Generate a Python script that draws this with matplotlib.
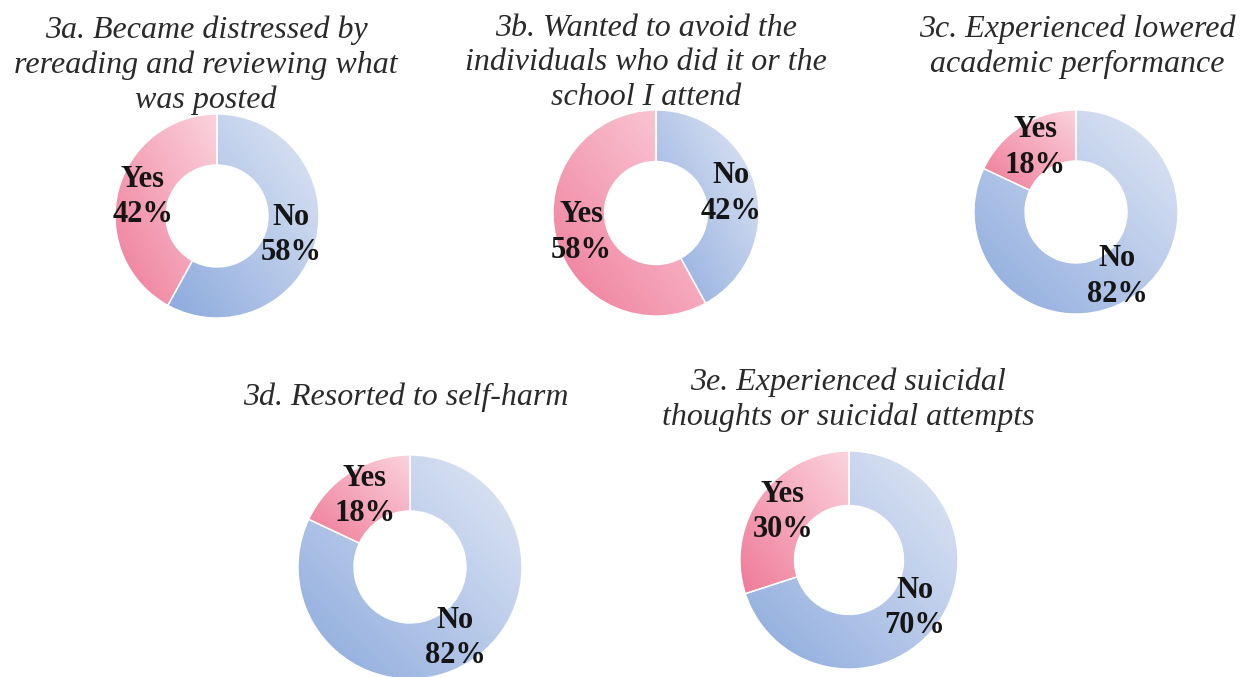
import numpy as np
import matplotlib
matplotlib.use("Agg")
import matplotlib.pyplot as plt
from matplotlib.colors import LinearSegmentedColormap

# Data
titles = [
    "3a. Became distressed by\nrereading and reviewing what\nwas posted",
    "3b. Wanted to avoid the\nindividuals who did it or the\nschool I attend",
    "3c. Experienced lowered\nacademic performance",
    "3d. Resorted to self-harm",
    "3e. Experienced suicidal\nthoughts or suicidal attempts",
]
yes_pct = [42, 58, 18, 18, 30]
no_pct = [58, 42, 82, 82, 70]
answers = ["Yes", "No"]

# layout in pixels: donut centre x, centre y, radius; title centre x, y
W, H = 1248, 677
donut_pos = [(217, 216, 102), (656, 213, 103), (1076, 212, 102),
             (410, 567, 112), (849, 560, 109)]
title_pos = [(206, 65), (646, 63), (1077, 47), (406, 397), (848, 400)]

pink = LinearSegmentedColormap.from_list("pink", ["#fbd3de", "#ef7a98"])
blue = LinearSegmentedColormap.from_list("blue", ["#e2e8f5", "#8caadd"])

fig = plt.figure(figsize=(W / 100, H / 100), dpi=100)
fig.patch.set_facecolor("white")

for i in range(len(titles)):
    cx, cy, r = donut_pos[i]
    ax = fig.add_axes([(cx - r) / W, (H - cy - r) / H, 2 * r / W, 2 * r / H])
    vals = [yes_pct[i], no_pct[i]]
    wedges, _ = ax.pie(vals, startangle=90, counterclock=True, radius=1,
                       wedgeprops=dict(width=0.5, edgecolor="white", linewidth=1))
    # gradient fill, light at top-right, dark at bottom-left of each wedge
    for k, (w, cmap) in enumerate(zip(wedges, [pink, blue])):
        ext = w.get_path().get_extents()
        x0, y0, x1, y1 = ext.x0, ext.y0, ext.x1, ext.y1
        xx, yy = np.meshgrid(np.linspace(0, 1, 200), np.linspace(0, 1, 200))
        t = ((1 - xx) + (1 - yy)) / 2
        im = ax.imshow(t, cmap=cmap, extent=[x0, x1, y0, y1], origin="lower",
                       vmin=0, vmax=1, zorder=0.5, interpolation="bilinear")
        im.set_clip_path(w)
        w.set_facecolor("none")
        w.set_zorder(1)
        # label in the middle of the ring
        th = np.deg2rad((w.theta1 + w.theta2) / 2)
        ax.text(0.75 * np.cos(th), 0.75 * np.sin(th), f"{answers[k]}\n{vals[k]}%",
                ha="center", va="center", fontsize=22, fontweight="bold",
                family="Liberation Serif", color="#151515", linespacing=1.3,
                zorder=3, clip_on=False)
    ax.set_xlim(-1, 1)
    ax.set_ylim(-1, 1)
    ax.axis("off")

    tx, ty = title_pos[i]
    fig.text(tx / W, 1 - ty / H, titles[i], ha="center", va="center",
             fontsize=23, style="italic", family="Liberation Serif",
             color="#2a2a2a", linespacing=1.25)

plt.savefig("out.png", dpi=100, facecolor="white")
